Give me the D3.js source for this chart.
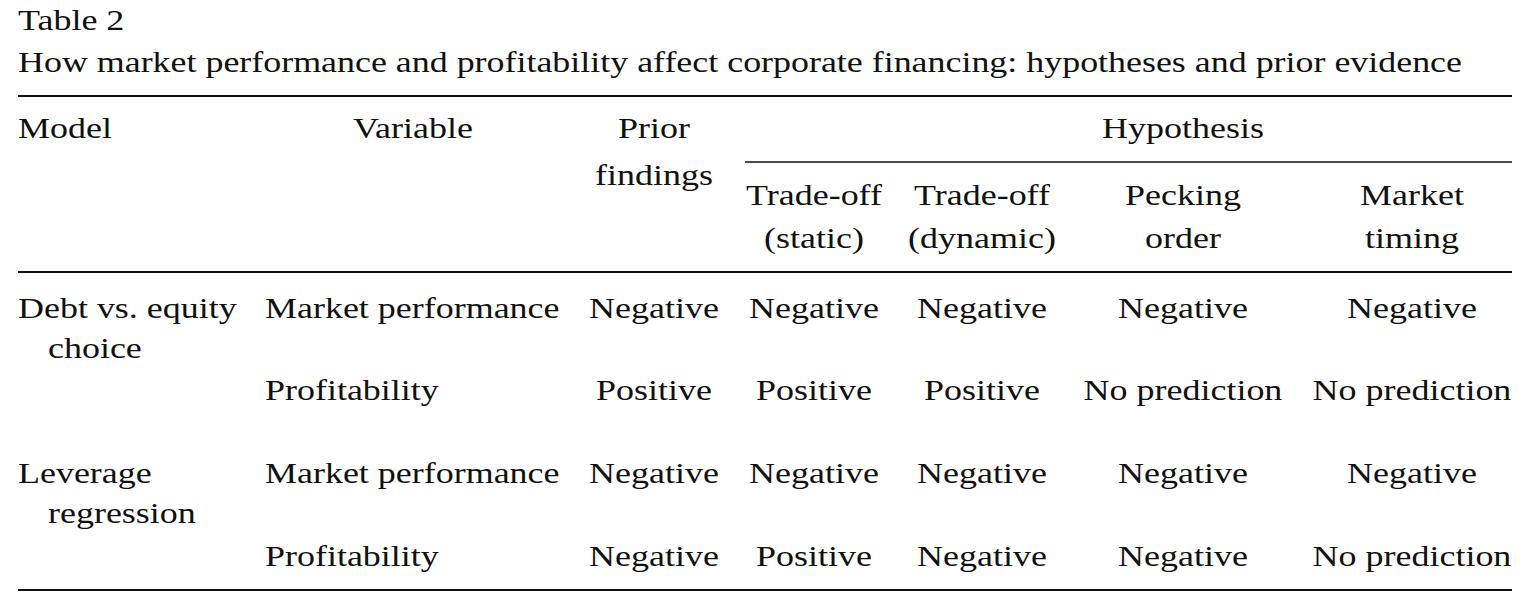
<!DOCTYPE html>
<html><head><meta charset="utf-8">
<script src="https://cdn.jsdelivr.net/npm/d3@7"></script>
<style>body{margin:0;background:#fff}</style></head>
<body><svg id="c" width="1529" height="607"></svg>
<script>
const tableTitle = "Table 2";
const tableCaption = "How market performance and profitability affect corporate financing: hypotheses and prior evidence";
const models = [["Debt vs. equity","choice"],["Leverage","regression"]];
const variables = ["Market performance","Profitability"];
const columns = ["priorFindings","tradeoffStatic","tradeoffDynamic","peckingOrder","marketTiming"];
const colHeaders = [["Prior","findings"],["Trade-off","(static)"],["Trade-off","(dynamic)"],["Pecking","order"],["Market","timing"]];
const priorFindings   = ["Negative","Positive","Negative","Negative"];
const tradeoffStatic  = ["Negative","Positive","Negative","Positive"];
const tradeoffDynamic = ["Negative","Positive","Negative","Negative"];
const peckingOrder    = ["Negative","No prediction","Negative","Negative"];
const marketTiming    = ["Negative","No prediction","Negative","No prediction"];
const vals = {priorFindings,tradeoffStatic,tradeoffDynamic,peckingOrder,marketTiming};

const svg = d3.select("#c");
const F = "Liberation Serif, Times New Roman, serif";
const fs = 29, stretch = 1.24;
const colX = d3.scaleOrdinal().domain(columns).range([654,814,982,1183,1412]);
const rowBase = [318,400,483,566];
const txt = (x,y,s,anchor="start",k=stretch)=>{
  const t=svg.append("text").attr("x",x).attr("y",y)
  .attr("font-family",F).attr("font-size",fs).attr("fill","#111").attr("text-anchor",anchor).text(s);
  const w=t.node().getComputedTextLength();
  t.attr("textLength",w*k).attr("lengthAdjust","spacingAndGlyphs");
  return t;};
const line=(x1,x2,y,w)=>svg.append("line").attr("x1",x1).attr("x2",x2).attr("y1",y).attr("y2",y).attr("stroke","#111").attr("stroke-width",w);

txt(18,30,tableTitle);
const cap = txt(18,72,tableCaption,"start",1);
cap.attr("textLength",1444);

line(18,1512,96,2); line(745,1512,162,1.5); line(18,1512,272,2); line(18,1512,590,2);

txt(18,138,"Model");
txt(413,138,"Variable","middle");
txt(1183,138,"Hypothesis","middle");
colHeaders.forEach((h,i)=>{
  const x=colX(columns[i]);
  if(i===0){txt(x,138,h[0],"middle");txt(x,185,h[1],"middle");}
  else {txt(x,205,h[0],"middle");txt(x,248,h[1],"middle");}
});
models.forEach((m,i)=>{
  const y=rowBase[i*2];
  txt(18,y,m[0]); txt(48,y+40,m[1]);
});
rowBase.forEach((y,r)=>{
  txt(265,y,variables[r%2]);
  columns.forEach(c=>txt(colX(c),y,vals[c][r],"middle"));
});
</script></body></html>
